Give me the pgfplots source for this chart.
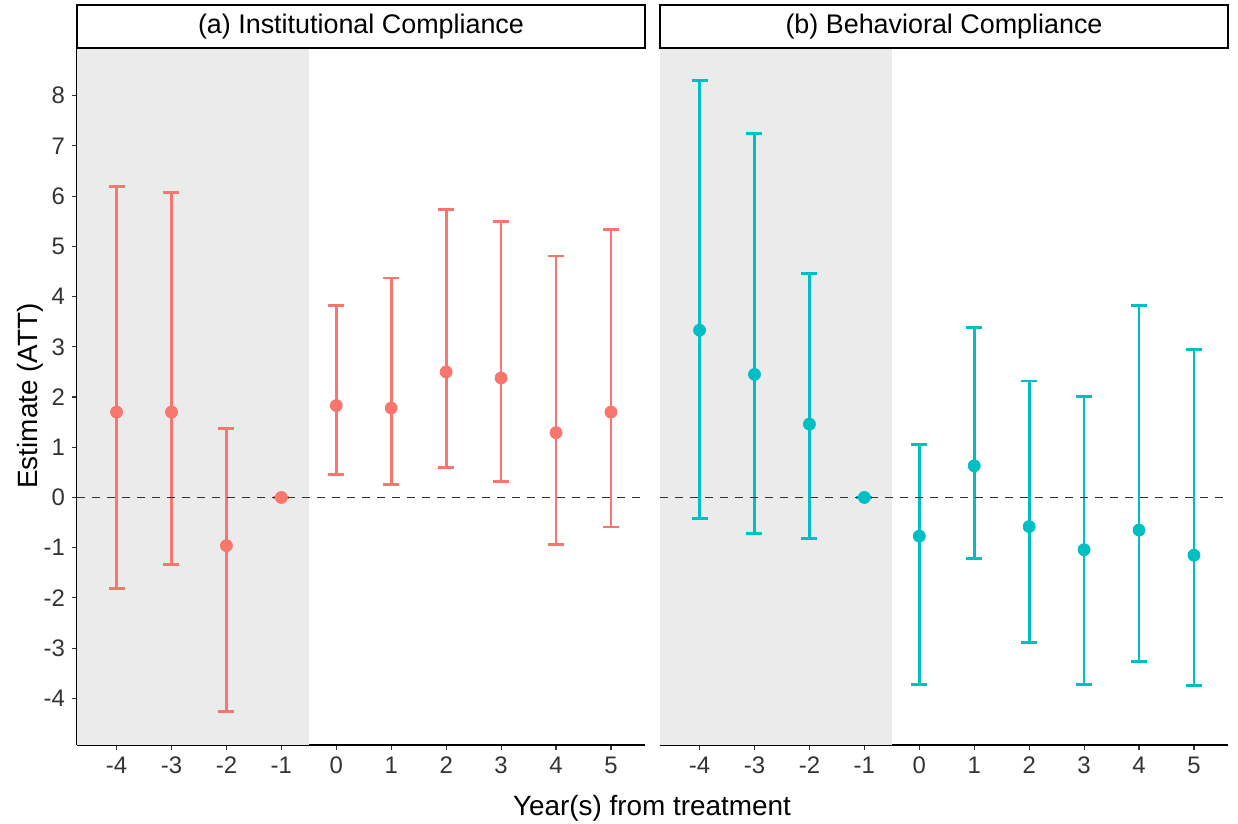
\documentclass[border=0pt]{standalone}
\usepackage{fontspec}
\setmainfont{Liberation Sans}
\usepackage{pgfplots}
\usepackage{pgfplotstable}
\pgfplotsset{compat=1.18}
\definecolor{cred}{HTML}{F8766D}
\definecolor{cteal}{HTML}{00BFC4}
\definecolor{shade}{HTML}{EBEBEB}

\pgfplotstableread{
x est lo hi
-4 1.70 -1.82 6.20
-3 1.70 -1.33 6.07
-2 -0.96 -4.26 1.38
-1 0 0 0
0 1.83 0.45 3.82
1 1.78 0.26 4.37
2 2.50 0.59 5.74
3 2.38 0.32 5.49
4 1.29 -0.94 4.81
5 1.70 -0.59 5.33
}\tabA

\pgfplotstableread{
x est lo hi
-4 3.33 -0.42 8.30
-3 2.45 -0.72 7.24
-2 1.46 -0.81 4.46
-1 0 0 0
0 -0.77 -3.72 1.06
1 0.63 -1.22 3.39
2 -0.58 -2.89 2.32
3 -1.04 -3.72 2.01
4 -0.65 -3.27 3.83
5 -1.15 -3.74 2.95
}\tabB

\pgfplotsset{
  panel/.style={
    scale only axis, width=284bp, height=348.5bp, anchor=north west,
    xmin=-4.72, xmax=5.62, ymin=-4.93, ymax=8.95,
    xtick={-4,-3,-2,-1,0,1,2,3,4,5},
    xticklabels={-4,-3,-2,-1,0,1,2,3,4,5},
    tick align=outside, major tick length=2.5bp,
    tick style={black!80, line width=0.55bp},
    ticklabel style={font=\fontsize{12}{13}\selectfont, text=black!80},
    axis x line*=bottom,
    axis line style={line width=0.6bp, -},
    clip=false,
  },
  ci/.style={only marks, mark=*, mark size=3bp, color=#1,
    error bars/.cd, y dir=both, y explicit,
    error bar style={line width=1.4bp, color=#1},
    error mark options={rotate=90, mark size=4bp, line width=1.4bp, color=#1}},
}

\begin{document}
\begin{tikzpicture}
\useasboundingbox (0,0) rectangle (619bp,-412bp);

\begin{axis}[panel, at={(38.5bp,-24bp)},
  axis y line*=left,
  ytick={-4,-3,-2,-1,0,1,2,3,4,5,6,7,8},
  yticklabels={-4,-3,-2,-1,0,1,2,3,4,5,6,7,8}]
  \addplot[draw=none, fill=shade] coordinates {(-4.72,-4.93) (-0.5,-4.93) (-0.5,8.95) (-4.72,8.95)} -- cycle;
  \addplot[ci=cred] table[x=x, y=est, y error plus expr=\thisrow{hi}-\thisrow{est}, y error minus expr=\thisrow{est}-\thisrow{lo}] {\tabA};
  \addplot[black!80, dash pattern=on 4bp off 3.5bp, line width=0.9bp] coordinates {(-4.72,0) (5.62,0)};
  \draw[line width=0.8bp, fill=white] (rel axis cs:0,1) rectangle (rel axis cs:1,1.0617);
  \node[font=\fontsize{13.5}{15}\selectfont] at (rel axis cs:0.5,1.031) {(a) Institutional Compliance};
\end{axis}

\begin{axis}[panel, at={(330bp,-24bp)},
  axis y line=none, ytick=\empty]
  \addplot[draw=none, fill=shade] coordinates {(-4.72,-4.93) (-0.5,-4.93) (-0.5,8.95) (-4.72,8.95)} -- cycle;
  \addplot[ci=cteal] table[x=x, y=est, y error plus expr=\thisrow{hi}-\thisrow{est}, y error minus expr=\thisrow{est}-\thisrow{lo}] {\tabB};
  \addplot[black!80, dash pattern=on 4bp off 3.5bp, line width=0.9bp] coordinates {(-4.72,0) (5.62,0)};
  \draw[line width=0.8bp, fill=white] (rel axis cs:0,1) rectangle (rel axis cs:1,1.0617);
  \node[font=\fontsize{13.5}{15}\selectfont] at (rel axis cs:0.5,1.031) {(b) Behavioral Compliance};
\end{axis}

\node[font=\fontsize{14}{16}\selectfont, rotate=90] at (15bp,-198bp) {Estimate (ATT)};
\node[font=\fontsize{14}{16}\selectfont] at (326bp,-404bp) {Year(s) from treatment};
\end{tikzpicture}
\end{document}
